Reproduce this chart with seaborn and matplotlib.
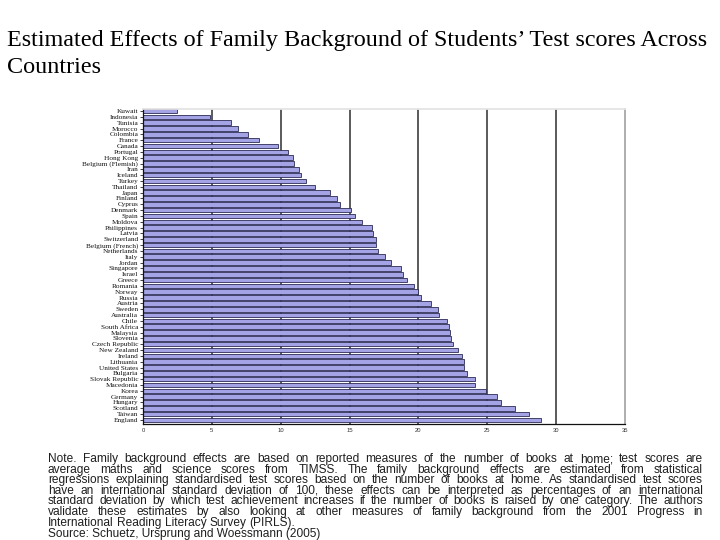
import pandas as pd
import matplotlib
matplotlib.use("Agg")
import matplotlib.pyplot as plt
import seaborn as sns

# ===== Data =====
countries = [
    "Kuwait", "Indonesia", "Tunisia", "Morocco", "Colombia", "France", "Canada",
    "Portugal", "Hong Kong", "Belgium (Flemish)", "Iran", "Iceland", "Turkey",
    "Thailand", "Japan", "Finland", "Cyprus", "Denmark", "Spain", "Moldova",
    "Philippines", "Latvia", "Switzerland", "Belgium (French)", "Netherlands",
    "Italy", "Jordan", "Singapore", "Israel", "Greece", "Romania", "Norway",
    "Russia", "Austria", "Sweden", "Australia", "Chile", "South Africa",
    "Malaysia", "Slovenia", "Czech Republic", "New Zealand", "Ireland",
    "Lithuania", "United States", "Bulgaria", "Slovak Republic", "Macedonia",
    "Korea", "Germany", "Hungary", "Scotland", "Taiwan", "England",
]
effects = [
    2.5, 4.9, 6.4, 6.9, 7.6, 8.4, 9.8,
    10.5, 10.9, 11.0, 11.3, 11.5, 11.8,
    12.5, 13.6, 14.1, 14.3, 15.1, 15.4, 15.9,
    16.6, 16.7, 16.9, 16.9, 17.1,
    17.6, 18.0, 18.7, 18.9, 19.2, 19.7, 20.0,
    20.2, 20.9, 21.4, 21.5, 22.1, 22.2,
    22.3, 22.4, 22.5, 22.9, 23.2,
    23.3, 23.3, 23.5, 24.1, 24.1,
    24.9, 25.7, 26.0, 27.0, 28.0, 28.9,
]
x_ticks = [0, 5, 10, 15, 20, 25, 30, 35]

title_lines = [
    "Estimated Effects of Family Background of Students\u2019 Test scores Across",
    "Countries",
]
note_lines = [
    "Note. Family background effects are based on reported measures of the number of books at home; test scores are",
    "average maths and science scores from TIMSS. The family background effects are estimated from statistical",
    "regressions explaining standardised test scores based on the number of books at home. As standardised test scores",
    "have an international standard deviation of 100, these effects can be interpreted as percentages of an international",
    "standard deviation by which test achievement increases if the number of books is raised by one category. The authors",
    "validate these estimates by also looking at other measures of family background from the 2001 Progress in",
    "International Reading Literacy Survey (PIRLS).",
]
source_line = "Source: Schuetz, Ursprung and Woessmann (2005)"

df = pd.DataFrame({"Country": countries, "Effect": effects})

# ===== Figure =====
W, H = 720, 540
fig = plt.figure(figsize=(7.2, 5.4), dpi=100)
fig.patch.set_facecolor("white")
ax = fig.add_axes([143 / W, 1 - 424 / H, (625 - 143) / W, (424 - 109) / H])

sns.barplot(data=df, x="Effect", y="Country", orient="h", ax=ax,
            color="#a3a3e6", saturation=1, width=0.78,
            edgecolor="#2a2a55", linewidth=0.6)

ax.set_xlim(0, 35)
ax.set_ylim(len(countries) - 1 + 0.69, -0.35)
ax.set_xticks(x_ticks)
ax.set_xticklabels([str(t) for t in x_ticks], fontsize=4.2,
                   family="Liberation Sans", color="#333333")
ax.tick_params(axis="x", length=0, pad=3)
ax.tick_params(axis="y", length=2, width=0.6, pad=1.5, color="#222222")
for lab in ax.get_yticklabels():
    lab.set_fontsize(5.2)
    lab.set_family("Liberation Serif")
    lab.set_color("#111111")
ax.set_xlabel("")
ax.set_ylabel("")

ax.set_axisbelow(True)
ax.xaxis.grid(True, color="#2e2e2e", linewidth=1.1)
ax.yaxis.grid(False)
for gl in ax.get_xgridlines()[-1:]:
    gl.set_visible(False)

ax.spines["left"].set_color("#111111")
ax.spines["left"].set_linewidth(0.9)
ax.spines["bottom"].set_color("#111111")
ax.spines["bottom"].set_linewidth(0.9)
ax.spines["right"].set_color("#a8a8a8")
ax.spines["right"].set_linewidth(1.3)
ax.spines["top"].set_color("#e4e4e4")
ax.spines["top"].set_linewidth(1.3)

# ===== Text =====
renderer = fig.canvas.get_renderer()


def text_width(s, **kw):
    t = fig.text(0, 0, s, **kw)
    w = t.get_window_extent(renderer).width
    t.remove()
    return w


# title, sized to span the page width
title_kw = dict(family="Liberation Serif", color="black")
tw = text_width(title_lines[0], fontsize=10, **title_kw)
title_size = 10 * (706 - 7) / tw
fig.text(7 / W, 1 - 46 / H, title_lines[0], fontsize=title_size, va="baseline", **title_kw)
fig.text(7 / W, 1 - 73 / H, title_lines[1], fontsize=title_size, va="baseline", **title_kw)

# justified note block, word by word
note_kw = dict(family="Liberation Sans", color="#1e1e1e")
x0, x1 = 48, 703
nat = max(text_width(l, fontsize=10, **note_kw) for l in note_lines)
note_kw["fontsize"] = 10 * (x1 - x0) / nat * 0.95

y = 462.0
for i, line in enumerate(note_lines):
    words = line.split()
    widths = [text_width(w, **note_kw) for w in words]
    if i == len(note_lines) - 1:
        gap = text_width("a b", **note_kw) - text_width("ab", **note_kw)
    else:
        gap = (x1 - x0 - sum(widths)) / (len(words) - 1)
    x = x0
    for w, wd in zip(words, widths):
        fig.text(x / W, 1 - y / H, w, va="baseline", ha="left", **note_kw)
        x += wd + gap
    y += 10.6

fig.text(x0 / W, 1 - 537 / H, source_line, va="baseline", ha="left", **note_kw)

fig.savefig("out.png", dpi=100, facecolor="white")
